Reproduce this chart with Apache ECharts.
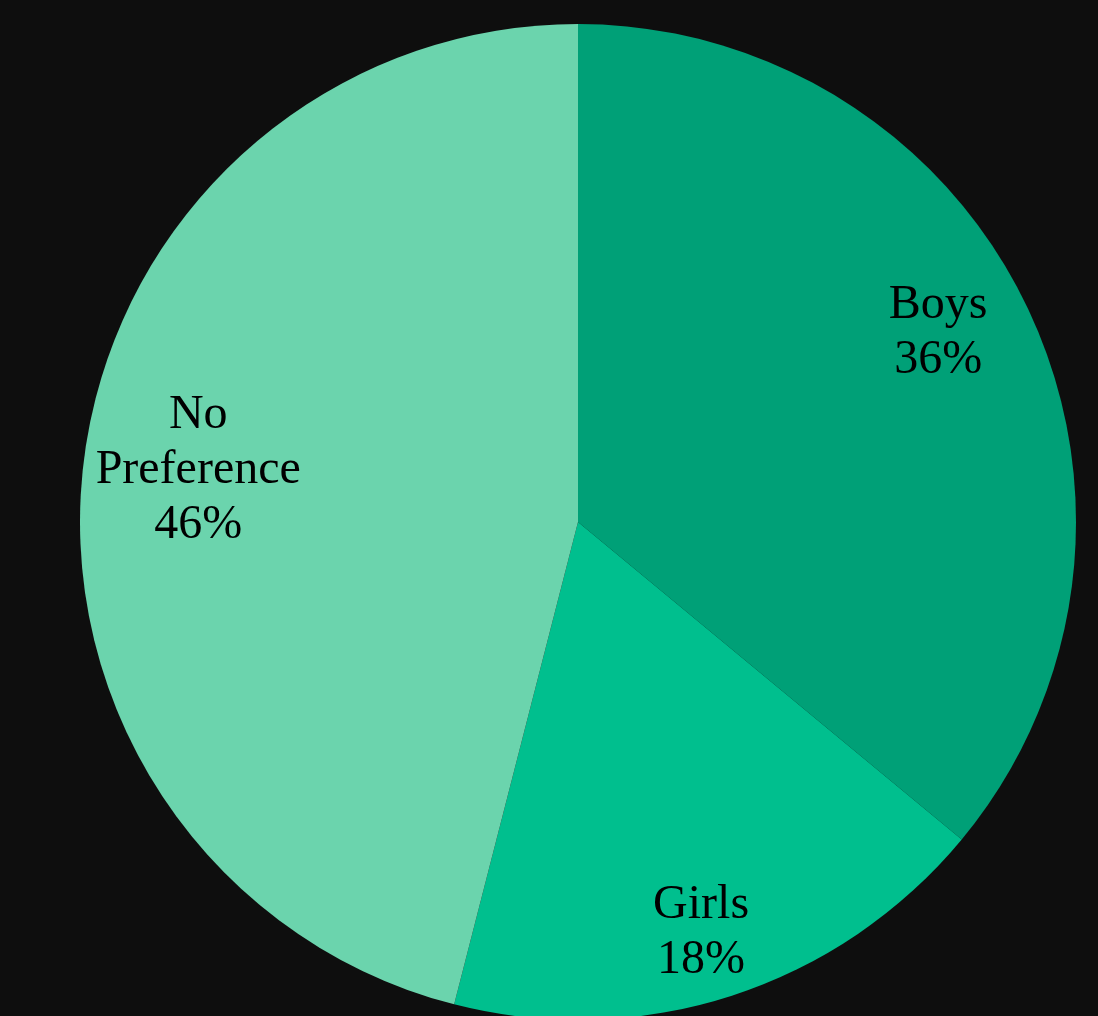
<!DOCTYPE html>
<html>
<head>
<meta charset="utf-8">
<script src="https://cdn.jsdelivr.net/npm/echarts@6/dist/echarts.min.js"></script>
<style>
  html, body { margin: 0; padding: 0; background: #0e0e0e; }
  #chart { width: 1098px; height: 1016px; }
</style>
</head>
<body>
<div id="chart"></div>
<script>
  const categories = ['Boys', 'Girls', 'No Preference'];
  const values = [36, 18, 46];
  const colors = ['#00a077', '#00bf8e', '#6bd4ad'];

  // small nudges so the labels sit where the original put them
  const labelNudge = {
    'Boys': [-9, -15],
    'Girls': [-3, 23],
    'No Preference': [25, 0],
  };

  const myChart = echarts.init(document.getElementById('chart'));
  myChart.setOption({
    backgroundColor: '#0e0e0e',
    animation: false,
    series: [
      {
        type: 'pie',
        center: [578, 522],
        radius: [0, 498],
        startAngle: 90,
        clockwise: true,
        silent: true,
        label: { show: false },
        labelLine: { show: false },
        data: categories.map((name, i) => ({
          name: name,
          value: values[i],
          itemStyle: { color: colors[i] },
        })),
      },
      {
        // transparent ring only for placing the labels further out
        type: 'pie',
        center: [578, 522],
        radius: [312, 498],
        startAngle: 90,
        clockwise: true,
        silent: true,
        itemStyle: { color: 'transparent' },
        labelLine: { show: false },
        label: {
          show: true,
          position: 'inside',
          color: '#000000',
          fontFamily: 'Liberation Serif',
          fontSize: 48,
          lineHeight: 55,
          align: 'center',
          formatter: function (p) {
            return p.name.replace(' ', '\n') + '\n' + p.value + '%';
          },
        },
        data: categories.map((name, i) => ({
          name: name,
          value: values[i],
          label: { offset: labelNudge[name] },
        })),
      },
    ],
  });
</script>
</body>
</html>
